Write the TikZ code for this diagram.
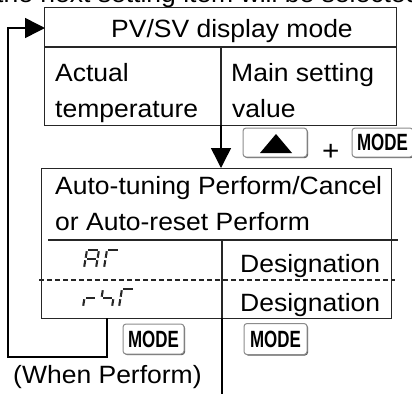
\documentclass[tikz,border=0pt]{standalone}
\usepackage{fontspec}
\setmainfont[FakeStretch=1.06]{Liberation Sans}
\newfontfamily\keyfont[FakeStretch=0.72]{Liberation Sans}
\usetikzlibrary{arrows.meta,shadows}
\def\sgA{\draw[seg] (3,0)--(15,0);}
\def\sgB{\draw[seg] (15,0)--(13.5,9);}
\def\sgC{\draw[seg] (13.5,9)--(12,18);}
\def\sgD{\draw[seg] (0,18)--(12,18);}
\def\sgE{\draw[seg] (1.5,9)--(0,18);}
\def\sgF{\draw[seg] (3,0)--(1.5,9);}
\def\sgG{\draw[seg] (1.5,9)--(13.5,9);}
\tikzset{
  lbl/.style={inner sep=0pt, anchor=base west, font=\fontsize{25}{29}\selectfont},
  boxline/.style={line width=1.3pt, draw=black!85},
  conn/.style={line width=1.5pt, draw=black},
  bigtip/.style={-{Triangle[length=20pt,width=20pt]}},
  keybox/.style={draw=black!45, line width=1pt, rounded corners=3pt, fill=white,
    drop shadow={shadow xshift=1pt, shadow yshift=-1pt, fill=black!65, opacity=1},
    inner sep=0pt},
  keytext/.style={font=\keyfont\bfseries\fontsize{23.5}{23.5}\selectfont},
  seg/.style={line width=2.1pt, draw=black!85, shorten >=1.3pt, shorten <=1.3pt},
}
\begin{document}
\begin{tikzpicture}[x=1pt,y=-1pt]
\useasboundingbox (0,0) rectangle (412,394);
\clip (0,0) rectangle (412,394);
% partially visible heading
\node[lbl] (head) at (-4,2.5) {the next setting item will be selected.};
% top box
\node[boxline, draw, anchor=north west, minimum width=352pt, minimum height=118pt, inner sep=0pt] (pvbox) at (44,7) {};
\draw[boxline] (44,47) -- (396,47);
\draw[boxline] (221,47) -- (221,125);
\node[lbl] (pvt) at (111,37) {PV/SV display mode};
\node[lbl] (act) at (55,81) {Actual};
\node[lbl] (tmp) at (55,117) {temperature};
\node[lbl] (mst) at (231,81) {Main setting};
\node[lbl] (val) at (232,117) {value};
% lower box
\node[boxline, draw, anchor=north west, minimum width=350pt, minimum height=150pt, inner sep=0pt] (atbox) at (41,168) {};
\draw[boxline] (48,240) -- (398,240);
\draw[boxline] (222,240) -- (222,318);
\draw[boxline, dash pattern=on 5pt off 3pt] (39,280) -- (395,280);
\node[lbl] (at1) at (55,194) {Auto-tuning Perform/Cancel};
\node[lbl] (at2) at (55,230) {or Auto-reset Perform};
\node[lbl] (des1) at (240,272) {Designation};
\node[lbl] (des2) at (240,311) {Designation};
% seven-segment glyphs
\begin{scope}[shift={(84,250)}]\sgA\sgB\sgC\sgE\sgF\sgG\end{scope}
\begin{scope}[shift={(104,250)}]\sgA\sgF\sgE\end{scope}
\begin{scope}[shift={(83,289)}]\sgG\sgE\end{scope}
\begin{scope}[shift={(100,289)}]\sgF\sgG\sgC\end{scope}
\begin{scope}[shift={(119,289)}]\sgA\sgF\sgE\end{scope}
% keys
\node[keybox, minimum width=64pt, minimum height=29pt] (upkey) at (275,142.5) {};
\fill (260,153) -- (292,153) -- (276,134) -- cycle;
\node[lbl, font=\fontsize{28}{28}\selectfont] (plus) at (322,160) {+};
\node[keybox, keytext, minimum width=61pt, minimum height=29pt] (modetop) at (382.5,142.5) {MODE};
\node[keybox, keytext, minimum width=61pt, minimum height=30pt] (mode1) at (153.5,339) {MODE};
\node[keybox, keytext, minimum width=63pt, minimum height=31pt] (mode2) at (275.5,339) {MODE};
\node[lbl] (when) at (13,383) {(When Perform)};
% connectors
\coordinate (dtop) at (221,125);
\coordinate (loopstart) at (107,318);
\coordinate (loopend) at (45,28);
\coordinate (exitend) at (222,394);
\coordinate (exitstart) at (222,318);
\draw[conn,bigtip] (dtop) -- (dtop |- atbox.north);
\draw[conn,bigtip] (loopstart) |- (8,357) |- (loopend);
\draw[conn] (exitstart) -- (exitend);
\end{tikzpicture}
\end{document}
